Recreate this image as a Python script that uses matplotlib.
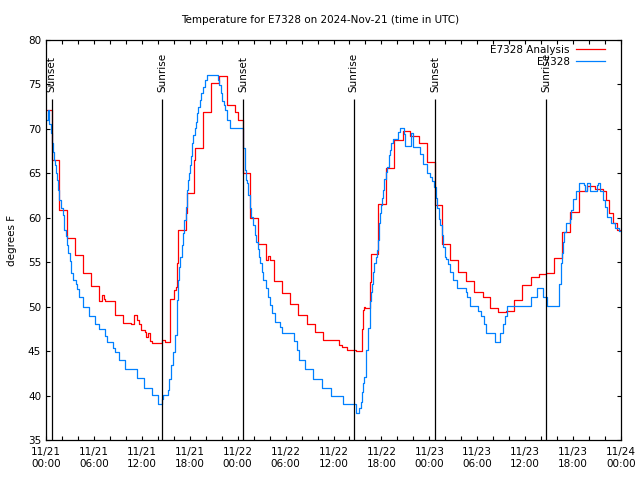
import matplotlib
matplotlib.use("Agg")
import matplotlib.pyplot as plt
import matplotlib.dates as mdates
import pandas as pd

# hours since 2024-11-21 00:00 UTC and temperature (F)
analysis_hours = [0.13, 0.75, 1.66, 2.66, 3.67, 4.67, 5.67, 6.59, 7.0, 7.26, 7.44, 8.6, 9.6, 10.7, 11.0,
                  11.4, 11.6, 11.95, 12.39, 12.57, 12.76, 13.0, 13.26, 14.55, 14.89, 15.55, 16.08, 16.26,
                  16.39, 16.55, 17.55, 17.7, 18.55, 18.7, 19.6, 20.6, 21.64, 22.64, 23.65, 24.06, 24.61,
                  25.6, 26.56, 27.6, 27.77, 28.11, 28.56, 29.56, 30.56, 31.57, 32.62, 33.65, 34.66, 35.66,
                  36.66, 37.03, 37.75, 38.87, 39.53, 39.66, 39.79, 39.97, 40.54, 40.7, 41.62, 42.62, 43.63,
                  44.7, 45.63, 46.7, 47.7, 48.7, 49.63, 50.63, 51.63, 52.63, 53.63, 54.71, 55.64, 56.64,
                  57.64, 58.64, 59.64, 60.72, 61.72, 62.64, 63.56, 64.64, 65.64, 66.72, 67.72, 68.72, 69.72,
                  70.06, 70.44, 71.06, 71.56, 71.94]
analysis_temp = [72.1, 66.5, 60.9, 57.7, 55.8, 53.75, 52.3, 50.6, 51.3, 50.9, 50.6, 49.1, 48.2, 48.0, 49.1,
                 48.5, 48.0, 47.4, 47.2, 46.6, 47.0, 46.1, 45.9, 46.2, 46.0, 50.9, 51.9, 52.2,
                 54.9, 58.6, 60.5, 62.75, 66.5, 67.8, 71.9, 75.2, 75.9, 72.7, 71.9, 71.0, 65.0,
                 60.0, 57.0, 55.3, 55.7, 55.25, 52.9, 51.5, 50.3, 49.1, 48.1, 47.1, 46.3, 46.2,
                 45.7, 45.5, 45.1, 45.0, 47.5, 49.6, 50.0, 49.8, 52.8, 55.9, 61.6, 65.6, 68.75,
                 69.8, 69.2, 68.4, 66.3, 61.4, 57.1, 55.3, 53.9, 52.9, 51.7, 51.05, 49.9, 49.4,
                 49.5, 50.7, 52.4, 53.3, 53.7, 53.8, 55.5, 58.4, 60.6, 63.05, 63.6, 63.2, 63.0,
                 62.0, 60.5, 59.4, 58.6, 58.6]

obs_hours = [0.09, 0.25, 0.38, 0.59, 0.75, 0.88, 1.0, 1.13, 1.25, 1.38, 1.46, 1.63, 1.88, 2.13, 2.29, 2.46,
             2.63, 2.75, 2.97, 3.17, 3.42, 3.75, 3.92, 4.09, 4.67, 5.34, 5.42, 6.09, 6.67, 7.34, 7.67, 8.42,
             8.63, 9.1, 9.92, 11.35, 12.26, 13.3, 13.97, 14.55, 14.7, 15.3, 15.45, 15.64, 15.93, 16.14,
             16.35, 16.43, 16.51, 16.64, 16.8, 16.98, 17.14, 17.3, 17.48, 17.64, 17.8, 17.93, 18.05, 18.18,
             18.3, 18.43, 18.6, 18.77, 18.93, 19.05, 19.23, 19.43, 19.64, 19.85, 20.14, 21.56, 21.71, 21.89,
             22.06, 22.23, 22.39, 22.61, 23.02, 24.61, 24.73, 24.86, 24.98, 25.08, 25.19, 25.31, 25.52,
             25.69, 25.9, 26.11, 26.31, 26.49, 26.65, 26.81, 26.99, 27.19, 27.52, 27.77, 28.02, 28.36,
             28.69, 29.28, 29.61, 31.06, 31.4, 31.74, 32.49, 33.4, 34.53, 35.74, 37.2, 38.85, 39.2, 39.41,
             39.53, 39.66, 39.78, 40.03, 40.12, 40.37, 40.54, 40.66, 40.79, 40.95, 41.12, 41.29, 41.41,
             41.54, 41.7, 41.82, 41.95, 42.07, 42.25, 42.37, 42.54, 42.7, 42.91, 43.08, 43.2, 43.45, 44.04,
             44.29, 44.79, 44.98, 45.75, 45.98, 46.88, 47.17, 47.7, 48.13, 48.33, 48.58, 48.79, 49.0,
             49.17, 49.29, 49.54, 49.71, 49.92, 50.13, 50.38, 50.63, 50.96, 51.46, 52.55, 52.71, 53.05,
             54.09, 54.42, 54.8, 55.09, 56.21, 56.89, 57.21, 57.43, 57.71, 60.72, 61.47, 62.22, 62.68,
             64.24, 64.43, 64.56, 64.72, 64.89, 65.14, 65.56, 65.68, 65.93, 66.39, 66.72, 67.35, 67.52,
             67.77, 68.15, 68.94, 69.12, 69.35, 69.69, 69.94, 70.19, 70.81, 71.31, 71.69, 71.94]
obs_temp = [71.0, 72.1, 70.6, 69.5, 68.4, 67.4, 66.5, 65.9, 65.0, 64.25, 63.1, 62.0, 61.1, 60.3, 58.6, 57.9,
            56.9, 56.0, 55.1, 53.75, 53.0, 52.6, 52.0, 51.05, 50.0, 49.4, 48.95, 48.05, 47.45, 46.7, 46.0, 45.4,
            44.9, 44.0, 42.95, 42.0, 40.9, 40.1, 39.05, 39.6, 40.1, 40.6, 41.9, 43.4, 44.9, 46.8,
            48.9, 50.75, 53.0, 54.5, 55.6, 56.9, 58.25, 59.75, 61.25, 63.1, 64.25, 65.0, 65.9, 66.9,
            68.4, 69.3, 70.1, 70.8, 71.75, 72.5, 73.25, 74.0, 74.75, 75.5, 76.1, 75.5, 74.9, 74.0,
            73.1, 72.7, 72.1, 71.0, 70.1, 69.5, 67.8, 66.5, 65.4, 64.25, 63.9, 62.6, 61.1,
            60.1, 59.2, 58.1, 57.3, 56.45, 55.6, 54.9, 53.9, 53.0, 52.1, 51.1, 50.2, 49.25,
            48.3, 47.75, 47.0, 46.1, 45.1, 44.0, 43.0, 41.9, 40.9, 40.0, 39.05, 38.0, 38.6, 39.3,
            40.4, 41.4, 42.1, 43.4, 45.1, 47.6, 50.6, 51.7, 52.6, 53.9, 54.9, 55.6, 56.4,
            57.5, 59.4, 60.5, 61.4, 62.2, 63.1, 64.4, 65.2, 65.75, 67.1, 67.6, 68.4, 68.9, 69.6,
            70.1, 69.4, 68.1, 69.5, 68.0, 67.2, 66.1, 65.0, 64.6, 64.1, 63.5, 62.2, 61.1,
            59.9, 59.2, 58.1, 56.75, 55.6, 55.4, 54.8, 53.9, 53.0, 52.1, 51.6, 51.1, 50.1,
            49.5, 48.95, 48.05, 47.0, 46.0, 47.0, 48.05, 49.0, 50.1, 51.05, 52.1, 51.1, 50.1,
            52.5, 54.9, 56.0, 57.3, 58.4, 59.4, 59.9, 60.9, 62.1, 63.0, 63.9, 63.7, 63.05,
            63.9, 63.05, 63.7, 63.9, 63.05, 62.0, 61.25, 60.1, 59.4, 58.9, 58.5, 58.5]

sunset_hours = [0.72, 24.73, 48.74]
sunrise_hours = [14.55, 38.55, 62.6]

start = pd.Timestamp("2024-11-21 00:00")
def to_time(h):
    return start + pd.to_timedelta(h, unit="h")

plt.rcParams['font.family'] = ['DejaVu Sans']
fobj = plt.figure(figsize=(6.4, 4.8), dpi=100)
ax = fobj.add_axes([46/640, 40/480, 575/640, 400/480])

ax.step(to_time(analysis_hours), analysis_temp, where='post', color='#ff0000', lw=0.9, label='E7328 Analysis')
ax.step(to_time(obs_hours), obs_temp, where='post', color='#0080ff', lw=0.9, label='E7328')

for h in sunset_hours:
    ax.vlines(to_time(h), 35, 73.4, color='black', lw=0.9)
    ax.text(to_time(h), 74.2, 'Sunset', rotation=90, ha='center', va='bottom', fontsize=7.5)
for h in sunrise_hours:
    ax.vlines(to_time(h), 35, 73.4, color='black', lw=0.9)
    ax.text(to_time(h), 74.2, 'Sunrise', rotation=90, ha='center', va='bottom', fontsize=7.5)

ax.set_xlim(start, to_time(72))
ax.set_ylim(35, 80)
ax.set_yticks(range(35, 81, 5))
ax.xaxis.set_major_locator(mdates.HourLocator(byhour=[0, 6, 12, 18]))
ax.xaxis.set_minor_locator(mdates.HourLocator(byhour=range(0, 24, 2)))
ax.xaxis.set_major_formatter(mdates.DateFormatter('%m/%d\n%H:%M'))
ax.tick_params(which='both', direction='in', top=True, right=True, length=3.2, width=0.8, labelsize=7.5)
ax.tick_params(axis='x', pad=5)
for s in ax.spines.values():
    s.set_linewidth(0.9)

ax.set_ylabel('degrees F', fontsize=7.5, labelpad=8)
fobj.text(0.5, 1 - 20/480, 'Temperature for E7328 on 2024-Nov-21 (time in UTC)', ha='center', va='center', fontsize=7.5)

ax.legend(loc='upper right', bbox_to_anchor=(0.985, 1.006), frameon=False, markerfirst=False, fontsize=7.5,
          handlelength=2.8, borderaxespad=0.3, labelspacing=0.2, handletextpad=0.6)

fobj.savefig('out.png', dpi=100)
